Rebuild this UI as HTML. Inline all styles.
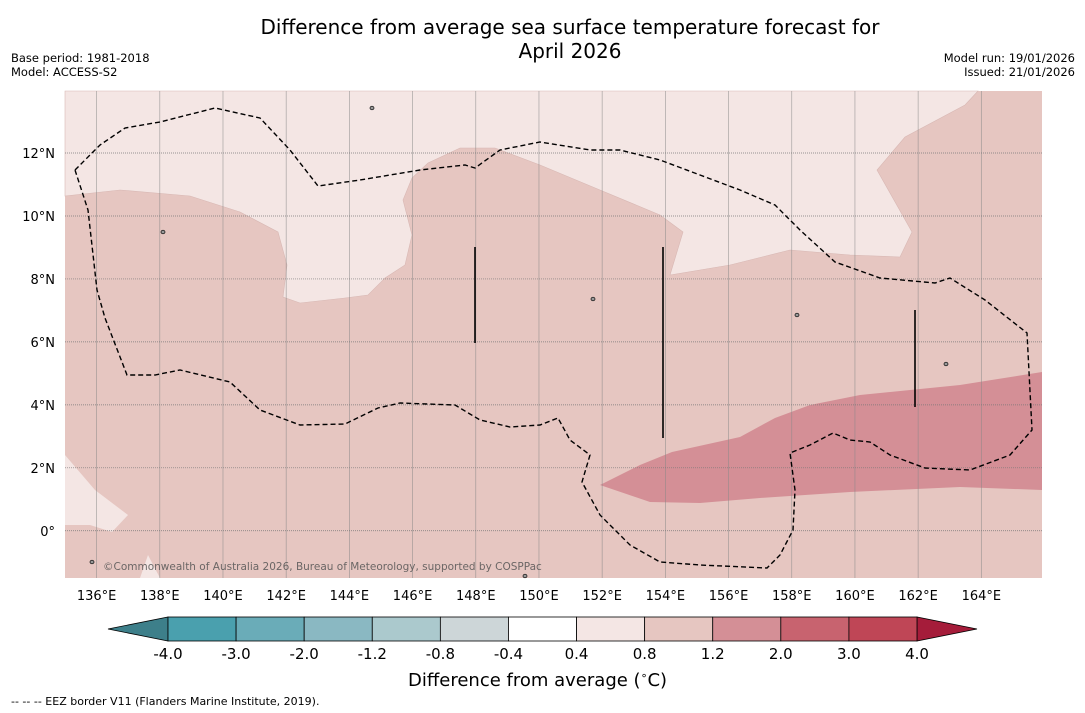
<!DOCTYPE html>
<html><head><meta charset="utf-8"><style>
body{margin:0;background:#fff;font-family:"DejaVu Sans","Liberation Sans",sans-serif;}
#wrap{position:relative;width:1085px;height:713px;overflow:hidden;}
.t{position:absolute;white-space:nowrap;}
</style></head><body>
<div id="wrap">
<div class="t" style="left:0;width:1140px;text-align:center;top:15px;font-size:20px;line-height:24px;">Difference from average sea surface temperature forecast for<br>April 2026</div>
<div class="t" style="left:11px;top:51px;font-size:11.5px;line-height:14px;">Base period: 1981-2018<br>Model: ACCESS-S2</div>
<div class="t" style="right:10px;top:51px;font-size:11.5px;line-height:14px;text-align:right;">Model run: 19/01/2026<br>Issued: 21/01/2026</div>
<svg id="map" width="1085" height="713" style="position:absolute;left:0;top:0"></svg>
<div class="t" style="left:408px;top:669px;font-size:18px;">Difference from average (<sup style="font-size:11px">∘</sup>C)</div>
<div class="t" style="left:11px;top:695px;font-size:11px;">--  --  -- EEZ border V11 (Flanders Marine Institute, 2019).</div>
</div>
<script>
const lonTicks=[136,138,140,142,144,146,148,150,152,154,156,158,160,162,164];
const latTicks=[0,2,4,6,8,10,12];
const levels=[-4.0,-3.0,-2.0,-1.2,-0.8,-0.4,0.4,0.8,1.2,2.0,3.0,4.0];
const levelColors=["#4aa0ae","#6aacb8","#8ab8c2","#abc9cd","#cdd6d8","#ffffff","#f4e6e4","#e6c6c1","#d48f96","#c8636f","#bf4656"];
const x0=65,x1=1042,y0=91,y1=578;
const lonMin=135,lonMax=165.92,latMin=-1.5,latMax=13.97;
const X=l=>x0+(l-lonMin)/(lonMax-lonMin)*(x1-x0);
const Y=l=>y0+(latMax-l)/(latMax-latMin)*(y1-y0);
const svg=document.getElementById('map');
const NS='http://www.w3.org/2000/svg';
function mk(tag,attrs,name,parent){const e=document.createElementNS(NS,tag);for(const k in attrs)e.setAttribute(k,attrs[k]);


(parent||svg).appendChild(e);return e;}
mk('rect',{x:x0,y:y0,width:x1-x0,height:y1-y0,fill:'#e6c6c1'},'map-background');
const light1="65,91 65,196 120,190 190,196 240,212 278,232 287,265 283,297 300,303 345,298 368,295 385,278 405,265 412,235 403,200 412,178 428,163 460,148 495,148 540,165 600,190 660,215 683,232 670,275 730,265 790,250 850,255 900,257 912,232 877,170 905,137 965,105 978,91";
mk('polygon',{points:light1,fill:'#f4e6e4',stroke:'#d8b8b4','stroke-width':0.6},'anomaly-0.4-region');
mk('polygon',{points:"65,455 95,490 128,515 112,532 90,525 65,525",fill:'#f4e6e4'},'anomaly-0.4-region-sw');
mk('polygon',{points:"140,578 148,555 160,578",fill:'#f4e6e4'},'anomaly-0.4-region-s');
mk('polygon',{points:"600,485 640,465 672,452 740,437 775,418 810,405 860,395 960,385 1042,372 1042,490 960,487 850,492 760,498 700,503 650,502",fill:'#d48f96'},'anomaly-1.2-region');
lonTicks.forEach(l=>{mk('line',{x1:X(l),x2:X(l),y1:y0,y2:y1,stroke:'#888','stroke-width':0.7,'stroke-opacity':0.7},'lon-gridline');
const t=mk('text',{x:X(l),y:600,'text-anchor':'middle','font-size':13,fill:'#000'},'lon-tick-label');t.textContent=l+'°E';});
latTicks.forEach(l=>{mk('line',{x1:x0,x2:x1,y1:Y(l),y2:Y(l),stroke:'#777','stroke-width':0.7,'stroke-dasharray':'1,1'},'lat-gridline');
const t=mk('text',{x:55,y:Y(l)+5,'text-anchor':'end','font-size':13,fill:'#000'},'lat-tick-label');t.textContent=l===0?'0°':l+'°N';});
const eez="75,170 100,145 125,128 160,122 215,108 260,118 290,150 318,186 360,180 420,170 465,165 475,168 500,150 540,142 590,150 620,150 660,160 700,175 740,190 775,205 800,230 835,262 880,278 935,283 950,278 985,300 1027,333 1032,430 1010,455 970,470 925,468 890,455 870,442 850,440 833,433 810,445 790,453 795,490 793,530 780,555 767,568 700,565 660,562 630,545 600,515 582,482 590,455 570,440 558,418 540,425 510,427 480,420 455,405 400,403 378,408 345,424 300,425 260,410 230,382 180,370 155,375 127,375 105,318 97,290 88,210 75,170";
mk('polyline',{points:eez,fill:'none',stroke:'#000','stroke-width':1.4,'stroke-dasharray':'5,3'},'eez-border');
[[475,247,343],[663,247,438],[915,310,407]].forEach(v=>mk('line',{x1:v[0],x2:v[0],y1:v[1],y2:v[2],stroke:'#000','stroke-width':1.6},'eez-line'));
[[372,108],[163,232],[797,315],[946,364],[593,299],[92,562],[525,576]].forEach(p=>mk('ellipse',{cx:p[0],cy:p[1],rx:2,ry:1.8,fill:'#999',stroke:'#000','stroke-width':0.7},'island'));
const cr=mk('text',{x:103,y:570,'font-size':10.5,fill:'#555','fill-opacity':0.85},'copyright');cr.textContent='©Commonwealth of Australia 2026, Bureau of Meteorology, supported by COSPPac';
// colorbar
const cbx0=168,cbx1=917,cby=617,cbh=24,seg=(cbx1-cbx0)/levelColors.length;
mk('polygon',{points:`108,${cby+cbh/2} ${cbx0},${cby} ${cbx0},${cby+cbh}`,fill:'#3d7f8a',stroke:'#000','stroke-width':0.8},'colorbar-low-arrow');
mk('polygon',{points:`977,${cby+cbh/2} ${cbx1},${cby} ${cbx1},${cby+cbh}`,fill:'#a51c3a',stroke:'#000','stroke-width':0.8},'colorbar-high-arrow');
levelColors.forEach((c,i)=>mk('rect',{x:cbx0+i*seg,y:cby,width:seg,height:cbh,fill:c,stroke:'#000','stroke-width':0.8},'colorbar-segment'));
levels.forEach((v,i)=>{const t=mk('text',{x:cbx0+i*seg,y:659,'text-anchor':'middle','font-size':15,fill:'#000'},'colorbar-tick-label');t.textContent=v.toFixed(1);});
</script>
</body></html>
